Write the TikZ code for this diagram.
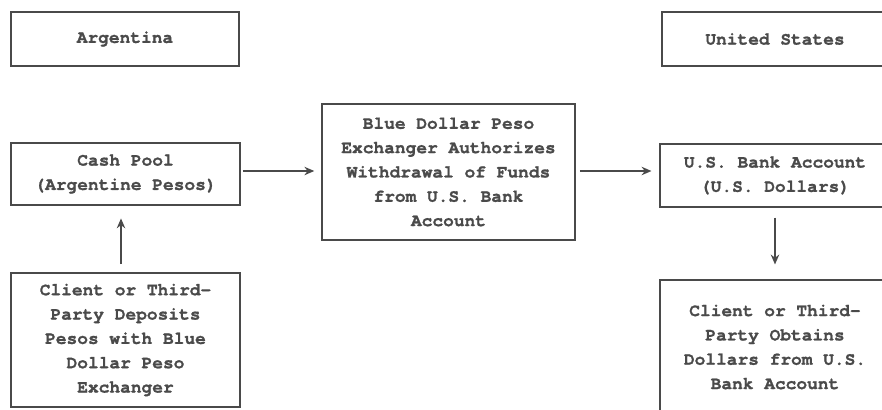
\documentclass[tikz,border=0pt]{standalone}
\usepackage{fontspec}
\setmonofont{TeX Gyre Cursor}[BoldFeatures={FakeBold=1.2}]
\usetikzlibrary{arrows.meta,positioning,calc}

\definecolor{inkgray}{HTML}{4A4A4A}

\begin{document}
\begin{tikzpicture}[x=0.025cm, y=-0.025cm,
    box/.style={draw=inkgray, line width=1.1pt, align=center, text=inkgray,
        font=\ttfamily\bfseries\fontsize{12.7pt}{17.3pt}\selectfont, inner sep=0pt},
    flow/.style={draw=inkgray, line width=1.3pt, -{Stealth[length=7pt,width=6pt]}}]
        % Define frame
        \path[use as bounding box] (0,0) rectangle (882,409);
        \clip (0,0) rectangle (882,409);

        % Draw headings
        \node[box, minimum width=5.7cm, minimum height=1.35cm] (arg) at (125,39) {Argentina};
        \node[box, minimum width=5.65cm, minimum height=1.35cm] (usa) at (775,39) {United States};

        % Draw boxes
        \node[box, minimum width=5.72cm, minimum height=1.55cm] (cash) at (125.5,174)
            {Cash Pool\\(Argentine Pesos)};
        \node[box, minimum width=5.72cm, minimum height=3.35cm] (client) at (125.5,340)
            {Client or Third-\\Party Deposits\\Pesos with Blue\\Dollar Peso\\Exchanger};
        \node[box, minimum width=6.32cm, minimum height=3.4cm] (mid) at (448.5,172)
            {Blue Dollar Peso\\Exchanger Authorizes\\Withdrawal of Funds\\from U.S. Bank\\Account};
        \node[box, minimum width=5.75cm, minimum height=1.57cm] (bank) at (775,175.5)
            {U.S. Bank Account\\(U.S. Dollars)};
        \node[box, minimum width=5.75cm, minimum height=3.35cm] (obtain) at (775,347)
            {Client or Third-\\Party Obtains\\Dollars from U.S.\\Bank Account};

        % Draw arrows
        \draw[flow, shorten <=5.7pt, shorten >=9pt] ($(client.north)+(-4.5,0)$) -- ($(cash.south)+(-4.5,0)$);
        \draw[flow, shorten <=1.5pt, shorten >=5pt] ($(cash.east)+(0,-3)$) -- ($(mid.west)+(0,-1)$);
        \draw[flow, shorten <=3pt, shorten >=5.5pt] ($(mid.east)+(0,-1)$) -- ($(mid.east -| bank.west)+(0,-1)$);
        \draw[flow, shorten <=7pt, shorten >=10.5pt] (bank.south) -- (obtain.north);
\end{tikzpicture}
\end{document}
